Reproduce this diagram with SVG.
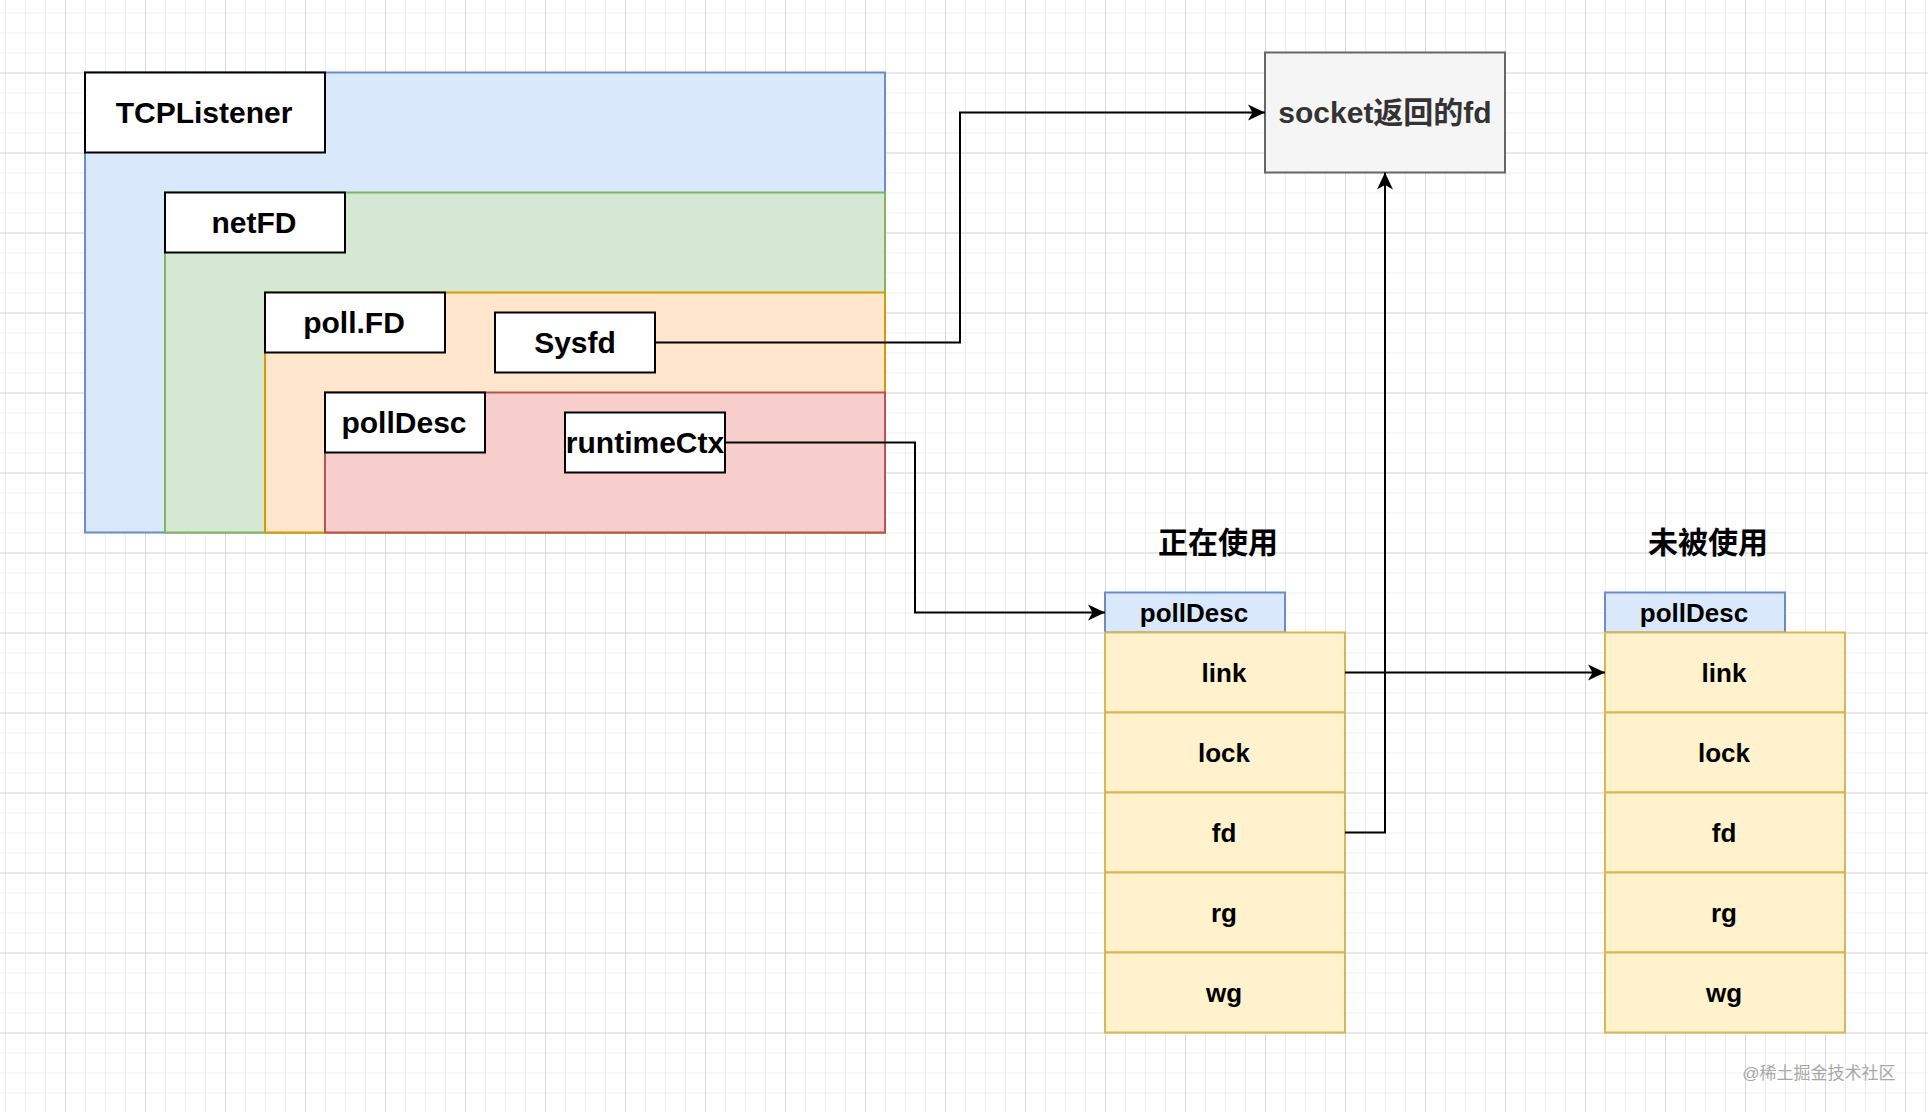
<svg xmlns="http://www.w3.org/2000/svg" width="1928" height="1112" viewBox="0 0 1928 1112">
<style>
text{font-family:"Liberation Sans","Noto Sans CJK SC",Arial,sans-serif;font-weight:bold;text-anchor:middle;dominant-baseline:central;fill:#000}
.lbl{font-size:30px}
.row{font-size:26px}
.cn{font-size:30px}
.box{fill:#fff;stroke:#000;stroke-width:2}
.blue{fill:#dae8fc;stroke:#6c8ebf;stroke-width:2}
.green{fill:#d5e8d4;stroke:#82b366;stroke-width:2}
.orange{fill:#ffe6cc;stroke:#d79b00;stroke-width:2}
.red{fill:#f8cecc;stroke:#b85450;stroke-width:2}
.yel{fill:#fff2cc;stroke:#d6b656;stroke-width:2}
.gray{fill:#f5f5f5;stroke:#666;stroke-width:2}
.edge{fill:none;stroke:#000;stroke-width:2}
</style>
<defs>
<pattern id="minor" x="5" y="12.5" width="20" height="20" patternUnits="userSpaceOnUse">
<path d="M0.5 0V20M0 0.5H20" fill="none" stroke="#eeeeee" stroke-width="1"/>
</pattern>
<pattern id="major" x="65" y="72.5" width="80" height="80" patternUnits="userSpaceOnUse">
<path d="M0.5 0V80M0 0.5H80" fill="none" stroke="#d9d9d9" stroke-width="1"/>
</pattern>
<marker id="arr" markerUnits="userSpaceOnUse" markerWidth="18" markerHeight="18" refX="17" refY="8" orient="auto" viewBox="0 0 18 16">
<path d="M0,0 L17,8 L0,16 L4.5,8 z" fill="#000"/>
</marker>
</defs>
<rect width="1928" height="1112" fill="#fff"/>
<rect width="1928" height="1112" fill="url(#minor)"/>
<rect width="1928" height="1112" fill="url(#major)"/>

<g id="TCPListener-container">
<rect class="blue" x="85" y="72.5" width="800" height="460"/>
</g>
<g id="TCPListener">
<rect class="box" x="85" y="72.5" width="240" height="80"/>
<text class="lbl" x="204" y="112.5">TCPListener</text>
</g>
<g id="netFD-container">
<rect class="green" x="165" y="192.5" width="720" height="340"/>
</g>
<g id="netFD">
<rect class="box" x="165" y="192.5" width="180" height="60"/>
<text class="lbl" x="254" y="222.5">netFD</text>
</g>
<g id="pollFD-container">
<rect class="orange" x="265" y="292.5" width="620" height="240"/>
</g>
<g id="pollFD">
<rect class="box" x="265" y="292.5" width="180" height="60"/>
<text class="lbl" x="354" y="322.5">poll.FD</text>
</g>
<g id="Sysfd">
<rect class="box" x="495" y="312.5" width="160" height="60"/>
<text class="lbl" x="575" y="342.5">Sysfd</text>
</g>
<g id="pollDesc-container">
<rect class="red" x="325" y="392.5" width="560" height="140"/>
</g>
<g id="pollDesc">
<rect class="box" x="325" y="392.5" width="160" height="60"/>
<text class="lbl" x="404" y="422.5">pollDesc</text>
</g>
<g id="runtimeCtx">
<rect class="box" x="565" y="412.5" width="160" height="60"/>
<text class="lbl" x="645" y="442.5">runtimeCtx</text>
</g>

<g id="socketfd">
<rect class="gray" x="1265" y="52.5" width="240" height="120"/>
<text class="lbl" x="1385" y="112.5" style="fill:#333">socket返回的fd</text>
</g>

<g id="label-inuse">
<text class="cn" x="1218" y="542">正在使用</text>
</g>
<g id="label-unused">
<text class="cn" x="1708" y="542">未被使用</text>
</g>

<g id="pollDesc-used">
<rect class="blue" x="1105" y="592.5" width="180" height="40"/>
<text class="row" x="1194" y="612.5">pollDesc</text>
<rect class="yel" x="1105" y="632.5" width="240" height="80"/>
<text class="row" x="1224" y="672.5">link</text>
<rect class="yel" x="1105" y="712.5" width="240" height="80"/>
<text class="row" x="1224" y="752.5">lock</text>
<rect class="yel" x="1105" y="792.5" width="240" height="80"/>
<text class="row" x="1224" y="832.5">fd</text>
<rect class="yel" x="1105" y="872.5" width="240" height="80"/>
<text class="row" x="1224" y="912.5">rg</text>
<rect class="yel" x="1105" y="952.5" width="240" height="80"/>
<text class="row" x="1224" y="992.5">wg</text>
</g>

<g id="pollDesc-unused">
<rect class="blue" x="1605" y="592.5" width="180" height="40"/>
<text class="row" x="1694" y="612.5">pollDesc</text>
<rect class="yel" x="1605" y="632.5" width="240" height="80"/>
<text class="row" x="1724" y="672.5">link</text>
<rect class="yel" x="1605" y="712.5" width="240" height="80"/>
<text class="row" x="1724" y="752.5">lock</text>
<rect class="yel" x="1605" y="792.5" width="240" height="80"/>
<text class="row" x="1724" y="832.5">fd</text>
<rect class="yel" x="1605" y="872.5" width="240" height="80"/>
<text class="row" x="1724" y="912.5">rg</text>
<rect class="yel" x="1605" y="952.5" width="240" height="80"/>
<text class="row" x="1724" y="992.5">wg</text>
</g>

<g id="connectors">
<path class="edge" d="M655,342.5 H960 V112.5 H1265" marker-end="url(#arr)"/>
<path class="edge" d="M725,442.5 H915 V612.5 H1105" marker-end="url(#arr)"/>
<path class="edge" d="M1345,832.5 H1385 V172.5" marker-end="url(#arr)"/>
<path class="edge" d="M1345,672.5 H1605" marker-end="url(#arr)"/>
</g>

<text x="1819" y="1073" style="font-size:17px;font-weight:normal;fill:#a8a8a8">@稀土掘金技术社区</text>
</svg>
